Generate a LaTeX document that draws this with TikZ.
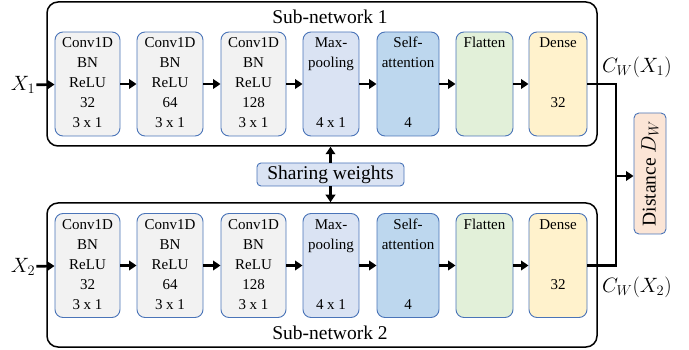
\documentclass[tikz,border=0pt]{standalone}
\usepackage{fontspec}
\setmainfont{Liberation Serif}
\usetikzlibrary{arrows.meta}
\definecolor{bordc}{HTML}{4A74B8}
\definecolor{cgray}{HTML}{F2F2F2}
\definecolor{cpool}{HTML}{DAE3F3}
\definecolor{catt}{HTML}{BDD7EE}
\definecolor{cflat}{HTML}{E2F0D9}
\definecolor{cdense}{HTML}{FFF2CC}
\definecolor{cdist}{HTML}{FBE5D6}
\tikzset{
  blk/.style={draw=bordc, line width=0.9pt, rounded corners=8pt, minimum height=104pt, inner sep=0pt},
  cont/.style={draw=black, line width=1.5pt, rounded corners=11pt, minimum width=550pt, minimum height=144pt, inner sep=0pt},
  lines/.style={font=\fontsize{15}{20}\selectfont, align=center, anchor=north, inner sep=0pt},
  ttl/.style={font=\fontsize{19.5}{23}\selectfont, inner sep=0pt},
  mth/.style={font=\fontsize{20}{24}\selectfont, inner sep=1pt},
  arr/.style={line width=2.7pt, -{Triangle[length=7.5pt,width=9.5pt]}},
  wire/.style={line width=2.7pt},
}
\begin{document}
\begin{tikzpicture}[x=1pt,y=-1pt]
\useasboundingbox (0,0) rectangle (689,350);
% containers
\node[cont] (net1) at (322,74) {};
\node[cont] (net2) at (322,275) {};
\node[ttl] (t1) at (330,17) {Sub-network 1};
\node[ttl] (t2) at (330,333) {Sub-network 2};
% rows
\foreach \r/\yc in {1/84, 2/265.5}{
  \node[blk, fill=cgray, minimum width=65pt] (a\r) at (87.5,\yc) {};
  \node[blk, fill=cgray, minimum width=66pt] (b\r) at (170,\yc) {};
  \node[blk, fill=cgray, minimum width=65pt] (c\r) at (253.5,\yc) {};
  \node[blk, fill=cpool, minimum width=56pt] (p\r) at (331,\yc) {};
  \node[blk, fill=catt, minimum width=62pt] (s\r) at (408,\yc) {};
  \node[blk, fill=cflat, minimum width=57pt] (f\r) at (484.5,\yc) {};
  \node[blk, fill=cdense, minimum width=58pt] (d\r) at (558,\yc) {};
  \node[lines] (ta\r) at ([yshift=-2pt]a\r.north) {\strut Conv1D\\BN\\ReLU\\32\\3 x 1};
  \node[lines] (tb\r) at ([yshift=-2pt]b\r.north) {\strut Conv1D\\BN\\ReLU\\64\\3 x 1};
  \node[lines] (tc\r) at ([yshift=-2pt]c\r.north) {\strut Conv1D\\BN\\ReLU\\128\\3 x 1};
  \node[lines] (tp\r) at ([yshift=-2pt]p\r.north) {\strut Max-\\pooling\\\mbox{}\\\mbox{}\\4 x 1};
  \node[lines] (ts\r) at ([yshift=-2pt]s\r.north) {\strut Self-\\attention\\\mbox{}\\\mbox{}\\4};
  \node[lines] (tf\r) at ([yshift=-2pt]f\r.north) {\strut Flatten};
  \node[lines] (td\r) at ([yshift=-2pt]d\r.north) {\strut Dense\\\mbox{}\\\mbox{}\\32};
  \draw[arr] (a\r) -- (b\r);
  \draw[arr] (b\r) -- (c\r);
  \draw[arr] (c\r) -- (p\r);
  \draw[arr] (p\r) -- (s\r);
  \draw[arr] (s\r) -- (f\r);
  \draw[arr] (f\r) -- (d\r);
}
% inputs
\node[mth] (x1) at (23,85) {$X_1$};
\node[mth] (x2) at (23,266.5) {$X_2$};
\draw[arr] (x1) -- (a1);
\draw[arr] (x2) -- (a2);
% sharing weights
\node[draw=bordc, line width=0.9pt, fill=cpool, rounded corners=4pt, minimum width=147pt, minimum height=23pt, inner sep=0pt, font=\fontsize{19.5}{23}\selectfont] (sw) at (330.5,174.5) {Sharing weights};
\draw[arr] (sw) -- (sw |- net1.south);
\draw[arr] (sw) -- (sw |- net2.north);
% outputs and distance
\node[draw=bordc, line width=0.9pt, fill=cdist, rounded corners=5pt, rotate=90, minimum width=121pt, minimum height=32pt, inner sep=0pt, font=\fontsize{19.5}{23}\selectfont] (dist) at (650,173.5) {Distance $D_W$};
\coordinate (j) at (616,176);
\draw[wire] (d1.east) -| (j);
\draw[wire] (d2.east) -| (j);
\draw[arr] (j) -- (j -| dist.north);
\node[mth, anchor=west] (c1) at (601,67) {$C_W(X_1)$};
\node[mth, anchor=west] (c2) at (601,287) {$C_W(X_2)$};
\end{tikzpicture}
\end{document}
